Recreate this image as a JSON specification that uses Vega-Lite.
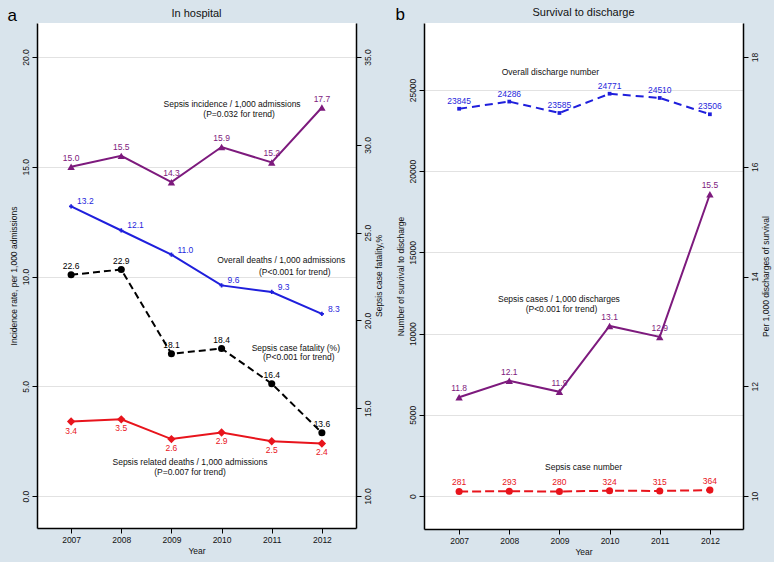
{
  "$schema": "https://vega.github.io/schema/vega-lite/v6.json",
  "background": "#d9e4ec",
  "padding": {"left": 7, "top": 5, "right": 4, "bottom": 6},
  "spacing": 12,
  "config": {
    "font": "Liberation Sans",
    "view": {"fill": "white", "stroke": null},
    "axis": {
      "labelFont": "Liberation Sans", "labelFontSize": 8.5, "labelColor": "#111",
      "titleFont": "Liberation Sans", "titleFontSize": 8.5, "titleFontWeight": "normal", "titleColor": "#111",
      "domainColor": "#000", "domainWidth": 1.5, "tickColor": "#000", "tickWidth": 1, "tickSize": 5,
      "labelPadding": 2, "titlePadding": 3, "grid": false
    },
    "title": {"font": "Liberation Sans", "fontSize": 11, "fontWeight": "normal", "color": "#111", "offset": -12},
    "text": {"font": "Liberation Sans", "fontSize": 8.5}
  },
  "datasets": {
    "incidence": [{"year": 2007, "value": 15.0}, {"year": 2008, "value": 15.5}, {"year": 2009, "value": 14.3}, {"year": 2010, "value": 15.9}, {"year": 2011, "value": 15.2}, {"year": 2012, "value": 17.7}],
    "overall": [{"year": 2007, "value": 13.2}, {"year": 2008, "value": 12.1}, {"year": 2009, "value": 11.0}, {"year": 2010, "value": 9.6}, {"year": 2011, "value": 9.3}, {"year": 2012, "value": 8.3}],
    "related": [{"year": 2007, "value": 3.4}, {"year": 2008, "value": 3.5}, {"year": 2009, "value": 2.6}, {"year": 2010, "value": 2.9}, {"year": 2011, "value": 2.5}, {"year": 2012, "value": 2.4}],
    "fatality": [{"year": 2007, "value": 22.6}, {"year": 2008, "value": 22.9}, {"year": 2009, "value": 18.1}, {"year": 2010, "value": 18.4}, {"year": 2011, "value": 16.4}, {"year": 2012, "value": 13.6}],
    "notesA": [
      {"year": 2010.21, "value": 17.86, "text": "Sepsis incidence / 1,000 admissions"},
      {"year": 2010.35, "value": 17.41, "text": "(P=0.032 for trend)"},
      {"year": 2011.19, "value": 10.77, "text": "Overall deaths / 1,000 admissions"},
      {"year": 2011.46, "value": 10.23, "text": "(P<0.001 for trend)"},
      {"year": 2011.48, "value": 6.77, "text": "Sepsis case fatality (%)"},
      {"year": 2011.54, "value": 6.32, "text": "(P<0.001 for trend)"},
      {"year": 2009.37, "value": 1.55, "text": "Sepsis related deaths / 1,000 admissions"},
      {"year": 2009.37, "value": 1.09, "text": "(P=0.007 for trend)"}
    ],
    "letterA": [{"year": 2005.825, "value": 21.64, "text": "a"}],
    "discharge": [{"year": 2007, "value": 23845}, {"year": 2008, "value": 24286}, {"year": 2009, "value": 23585}, {"year": 2010, "value": 24771}, {"year": 2011, "value": 24510}, {"year": 2012, "value": 23506}],
    "casenum": [{"year": 2007, "value": 281}, {"year": 2008, "value": 293}, {"year": 2009, "value": 280}, {"year": 2010, "value": 324}, {"year": 2011, "value": 315}, {"year": 2012, "value": 364}],
    "cases": [{"year": 2007, "value": 11.8}, {"year": 2008, "value": 12.1}, {"year": 2009, "value": 11.9}, {"year": 2010, "value": 13.1}, {"year": 2011, "value": 12.9}, {"year": 2012, "value": 15.5}],
    "notesB": [
      {"year": 2008.82, "value": 26108, "text": "Overall discharge number"},
      {"year": 2008.99, "value": 12131, "text": "Sepsis cases / 1,000 discharges"},
      {"year": 2009.04, "value": 11515, "text": "(P<0.001 for trend)"},
      {"year": 2009.48, "value": 1786, "text": "Sepsis case number"}
    ],
    "letterB": [{"year": 2005.825, "value": 29310, "text": "b"}]
  },
  "hconcat": [
    {
      "width": 319, "height": 505,
      "title": {"text": "In hospital"},
      "encoding": {
        "x": {"field": "year", "type": "quantitative", "scale": {"domain": [2006.32, 2012.68], "nice": false, "zero": false},
              "axis": {"values": [2007, 2008, 2009, 2010, 2011, 2012], "format": "d", "title": "Year", "labelFlush": false}}
      },
      "layer": [
        {
          "encoding": {
            "y": {"field": "value", "type": "quantitative", "scale": {"domain": [-1.45, 21.55], "nice": false, "zero": false},
                  "axis": {"orient": "left", "values": [0, 5, 10, 15, 20], "format": ".1f", "labelAngle": -90, "labelFlush": false,
                           "grid": true, "gridColor": "#e2e2e2", "gridWidth": 1.2, "title": "Incidence rate, per 1,000 admissions"}}
          },
          "layer": [
            {"data": {"name": "incidence"}, "mark": {"type": "line", "color": "#7d1a7d", "strokeWidth": 2}},
            {"data": {"name": "incidence"}, "mark": {"type": "point", "shape": "triangle-up", "filled": true, "opacity": 1, "size": 55, "color": "#7d1a7d"}},
            {"data": {"name": "incidence"}, "mark": {"type": "text", "color": "#7d1a7d", "dy": -9}, "encoding": {"text": {"field": "value", "format": ".1f"}}},
            {"data": {"name": "overall"}, "mark": {"type": "line", "color": "#1f1fdc", "strokeWidth": 2}},
            {"data": {"name": "overall"}, "mark": {"type": "point", "shape": "cross", "filled": true, "opacity": 1, "size": 18, "color": "#1f1fdc"}},
            {"data": {"name": "overall"}, "mark": {"type": "text", "color": "#1f1fdc", "align": "left", "dx": 6, "dy": -5}, "encoding": {"text": {"field": "value", "format": ".1f"}}},
            {"data": {"name": "related"}, "mark": {"type": "line", "color": "#e8141c", "strokeWidth": 2}},
            {"data": {"name": "related"}, "mark": {"type": "point", "shape": "diamond", "filled": true, "opacity": 1, "size": 70, "color": "#e8141c"}},
            {"data": {"name": "related"}, "mark": {"type": "text", "color": "#e8141c", "dy": 9}, "encoding": {"text": {"field": "value", "format": ".1f"}}},
            {"data": {"name": "notesA"}, "mark": {"type": "text", "color": "#111"}, "encoding": {"text": {"field": "text"}}},
            {"data": {"name": "letterA"}, "mark": {"type": "text", "color": "#000", "fontSize": 17, "baseline": "alphabetic"}, "encoding": {"text": {"field": "text"}}}
          ]
        },
        {
          "encoding": {
            "y": {"field": "value", "type": "quantitative", "scale": {"domain": [8.18, 36.94], "nice": false, "zero": false},
                  "axis": {"orient": "right", "values": [10, 15, 20, 25, 30, 35], "format": ".1f", "labelAngle": -90, "labelFlush": false,
                           "title": "Sepsis case fatality,%", "titleAngle": 270, "titleBaseline": "top"}}
          },
          "layer": [
            {"data": {"name": "fatality"}, "mark": {"type": "line", "color": "#000", "strokeWidth": 2, "strokeDash": [7, 4]}},
            {"data": {"name": "fatality"}, "mark": {"type": "point", "shape": "circle", "filled": true, "opacity": 1, "size": 50, "color": "#000"}},
            {"data": {"name": "fatality"}, "mark": {"type": "text", "color": "#000", "dy": -9}, "encoding": {"text": {"field": "value", "format": ".1f"}}}
          ]
        }
      ],
      "resolve": {"scale": {"y": "independent"}}
    },
    {
      "width": 319, "height": 506,
      "title": {"text": "Survival to discharge"},
      "encoding": {
        "x": {"field": "year", "type": "quantitative", "scale": {"domain": [2006.3, 2012.66], "nice": false, "zero": false},
              "axis": {"values": [2007, 2008, 2009, 2010, 2011, 2012], "format": "d", "title": "Year", "labelFlush": false}}
      },
      "layer": [
        {
          "encoding": {
            "y": {"field": "value", "type": "quantitative", "scale": {"domain": [-2030, 29125], "nice": false, "zero": false},
                  "axis": {"orient": "left", "values": [0, 5000, 10000, 15000, 20000, 25000], "format": "d", "labelAngle": -90, "labelFlush": false,
                           "grid": true, "gridColor": "#e2e2e2", "gridWidth": 1.2, "title": "Number of survival to discharge"}}
          },
          "layer": [
            {"data": {"name": "discharge"}, "mark": {"type": "line", "color": "#1f1fdc", "strokeWidth": 2, "strokeDash": [8, 5]}},
            {"data": {"name": "discharge"}, "mark": {"type": "point", "shape": "square", "filled": true, "opacity": 1, "size": 14, "color": "#1f1fdc"}},
            {"data": {"name": "discharge"}, "mark": {"type": "text", "color": "#1f1fdc", "dy": -8}, "encoding": {"text": {"field": "value", "format": "d"}}},
            {"data": {"name": "casenum"}, "mark": {"type": "line", "color": "#e8141c", "strokeWidth": 2, "strokeDash": [9, 4]}},
            {"data": {"name": "casenum"}, "mark": {"type": "point", "shape": "circle", "filled": true, "opacity": 1, "size": 50, "color": "#e8141c"}},
            {"data": {"name": "casenum"}, "mark": {"type": "text", "color": "#e8141c", "dy": -9}, "encoding": {"text": {"field": "value", "format": "d"}}},
            {"data": {"name": "notesB"}, "mark": {"type": "text", "color": "#111"}, "encoding": {"text": {"field": "text"}}},
            {"data": {"name": "letterB"}, "mark": {"type": "text", "color": "#000", "fontSize": 17, "baseline": "alphabetic"}, "encoding": {"text": {"field": "text"}}}
          ]
        },
        {
          "encoding": {
            "y": {"field": "value", "type": "quantitative", "scale": {"domain": [9.4, 18.62], "nice": false, "zero": false},
                  "axis": {"orient": "right", "values": [10, 12, 14, 16, 18], "format": "d", "labelAngle": -90, "labelFlush": false,
                           "title": "Per 1,000 discharges of survival", "titleAngle": 270, "titleBaseline": "top"}}
          },
          "layer": [
            {"data": {"name": "cases"}, "mark": {"type": "line", "color": "#7d1a7d", "strokeWidth": 2}},
            {"data": {"name": "cases"}, "mark": {"type": "point", "shape": "triangle-up", "filled": true, "opacity": 1, "size": 55, "color": "#7d1a7d"}},
            {"data": {"name": "cases"}, "mark": {"type": "text", "color": "#7d1a7d", "dy": -9}, "encoding": {"text": {"field": "value", "format": ".1f"}}}
          ]
        }
      ],
      "resolve": {"scale": {"y": "independent"}}
    }
  ]
}
